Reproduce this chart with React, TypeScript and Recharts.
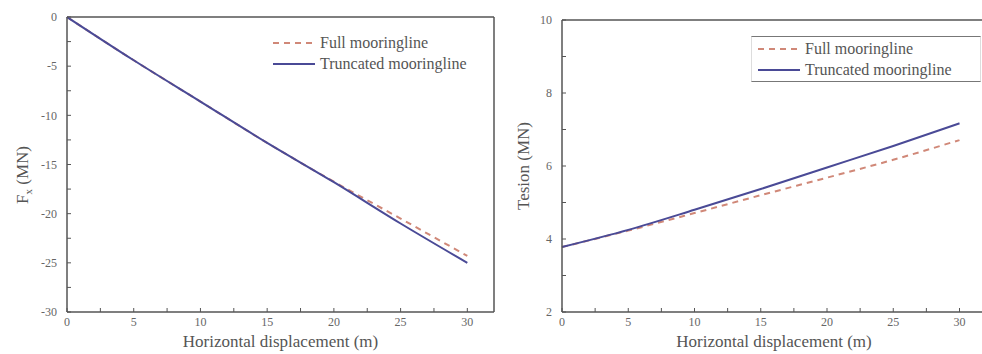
import { LineChart, Line, XAxis, YAxis, ReferenceLine, Label } from 'recharts';

// horizontal displacement (m)
const disp = [0, 5, 10, 15, 20, 25, 30];
// horizontal force Fx (MN)
const fxFull = [0, -4.4, -8.6, -12.8, -16.75, -20.5, -24.3];
const fxTrunc = [0, -4.4, -8.6, -12.8, -16.8, -21.0, -25.0];
// line tension (MN)
const tensionFull = [3.78, 4.23, 4.71, 5.2, 5.68, 6.17, 6.71];
const tensionTrunc = [3.78, 4.25, 4.8, 5.37, 5.96, 6.55, 7.17];

const xTicks = [0, 2.5, 5, 7.5, 10, 12.5, 15, 17.5, 20, 22.5, 25, 27.5, 30];
const fxTicks = [0, -2.5, -5, -7.5, -10, -12.5, -15, -17.5, -20, -22.5, -25, -27.5, -30];
const tensionTicks = [2, 3, 4, 5, 6, 7, 8, 9, 10];
const seriesNames = ['Full mooringline', 'Truncated mooringline'];

const fxData = disp.map((x, i) => ({ x, full: fxFull[i], trunc: fxTrunc[i] }));
const tensionData = disp.map((x, i) => ({ x, full: tensionFull[i], trunc: tensionTrunc[i] }));

const FONT = '"Liberation Serif", "DejaVu Serif", serif';
const AXIS = '#555';
const FULL_COLOR = '#d08878';
const TRUNC_COLOR = '#4a4a96';

const tickStyle = { fill: '#666', fontSize: 12, fontFamily: FONT };

// legend drawn as an overlay so it doesn't take space from the plot
function LegendBox({ boxed, width, left, top }: { boxed: boolean; width: number; left: number; top: number }) {
  return (
    <div
      style={{
        position: 'absolute',
        left,
        top,
        width,
        fontFamily: FONT,
        fontSize: 16,
        color: '#555',
        borderTop: boxed ? '1.5px solid #777' : 'none',
        borderBottom: boxed ? '1.5px solid #777' : 'none',
        borderLeft: boxed ? '1px solid #ddd' : 'none',
        borderRight: boxed ? '1px solid #ddd' : 'none',
        padding: boxed ? '1px 0 1px 6px' : 0,
        lineHeight: '21px',
      }}
    >
      {seriesNames.map((name, i) => (
        <div key={name} style={{ display: 'flex', alignItems: 'center', whiteSpace: 'nowrap' }}>
          <svg width={42} height={10} style={{ marginRight: 5 }}>
            <line
              x1={0}
              y1={5}
              x2={42}
              y2={5}
              stroke={i === 0 ? FULL_COLOR : TRUNC_COLOR}
              strokeWidth={2}
              strokeDasharray={i === 0 ? '6 5' : undefined}
            />
          </svg>
          <span>{name}</span>
        </div>
      ))}
    </div>
  );
}

function FxChart() {
  return (
    <LineChart width={500} height={354} data={fxData} margin={{ top: 17, right: 6, left: 0, bottom: 0 }}>
      <XAxis
        dataKey="x"
        type="number"
        domain={[0, 32]}
        ticks={xTicks}
        interval={0}
        tickFormatter={(v) => (v % 5 === 0 ? String(v) : '')}
        tick={tickStyle}
        tickSize={-4}
        tickMargin={9}
        tickLine={{ stroke: AXIS }}
        axisLine={{ stroke: AXIS, strokeWidth: 1.5 }}
        height={42}
      >
        <Label
          value="Horizontal displacement (m)"
          position="insideBottom"
          offset={7}
          style={{ fill: '#555', fontSize: 17, fontFamily: FONT }}
        />
      </XAxis>
      <YAxis
        type="number"
        domain={[-30, 0]}
        ticks={fxTicks}
        interval={0}
        tickFormatter={(v) => (v % 5 === 0 ? String(v) : '')}
        tick={tickStyle}
        tickSize={-4}
        tickMargin={14}
        tickLine={{ stroke: AXIS }}
        axisLine={{ stroke: AXIS, strokeWidth: 1.5 }}
        width={67}
      >
        <Label
          content={() => (
            <text
              x={28}
              y={175}
              transform="rotate(-90 28 175)"
              textAnchor="middle"
              fill="#555"
              fontSize={17}
              fontFamily={FONT}
            >
              F<tspan fontSize={11} dy={4}>x</tspan>
              <tspan dy={-4}> (MN)</tspan>
            </text>
          )}
        />
      </YAxis>
      <ReferenceLine y={0} stroke={AXIS} strokeWidth={1.5} />
      <ReferenceLine x={32} stroke={AXIS} strokeWidth={1.5} />
      <Line
        type="monotone"
        dataKey="full"
        stroke={FULL_COLOR}
        strokeWidth={2}
        strokeDasharray="6 5"
        dot={false}
        isAnimationActive={false}
      />
      <Line
        type="monotone"
        dataKey="trunc"
        stroke={TRUNC_COLOR}
        strokeWidth={2}
        dot={false}
        isAnimationActive={false}
      />
    </LineChart>
  );
}

function TensionChart() {
  return (
    <LineChart width={500} height={354} data={tensionData} margin={{ top: 20, right: 5, left: 0, bottom: 0 }}>
      <XAxis
        dataKey="x"
        type="number"
        domain={[0, 32]}
        ticks={xTicks}
        interval={0}
        tickFormatter={(v) => (v % 5 === 0 ? String(v) : '')}
        tick={tickStyle}
        tickSize={-4}
        tickMargin={9}
        tickLine={{ stroke: AXIS }}
        axisLine={{ stroke: AXIS, strokeWidth: 1.5 }}
        height={42}
      >
        <Label
          value="Horizontal displacement (m)"
          position="insideBottom"
          offset={7}
          style={{ fill: '#555', fontSize: 17, fontFamily: FONT }}
        />
      </XAxis>
      <YAxis
        type="number"
        domain={[2, 10]}
        ticks={tensionTicks}
        interval={0}
        tickFormatter={(v) => (v % 2 === 0 ? String(v) : '')}
        tick={tickStyle}
        tickSize={-4}
        tickMargin={14}
        tickLine={{ stroke: AXIS }}
        axisLine={{ stroke: AXIS, strokeWidth: 1.5 }}
        width={71}
      >
        <Label
          value="Tesion (MN)"
          angle={-90}
          position="insideLeft"
          offset={32}
          style={{ fill: '#555', fontSize: 17, fontFamily: FONT, textAnchor: 'middle' }}
        />
      </YAxis>
      <ReferenceLine y={10} stroke={AXIS} strokeWidth={1.5} />
      <Line
        type="monotone"
        dataKey="full"
        stroke={FULL_COLOR}
        strokeWidth={2}
        strokeDasharray="6 5"
        dot={false}
        isAnimationActive={false}
      />
      <Line
        type="monotone"
        dataKey="trunc"
        stroke={TRUNC_COLOR}
        strokeWidth={2}
        dot={false}
        isAnimationActive={false}
      />
    </LineChart>
  );
}

export default function App() {
  return (
    <div
      style={{
        position: 'fixed',
        left: 0,
        top: 0,
        width: 982,
        height: 354,
        overflow: 'hidden',
        background: '#fff',
      }}
    >
      <div style={{ position: 'absolute', left: 0, top: 0 }}>
        <FxChart />
      </div>
      <div style={{ position: 'absolute', left: 491, top: 0 }}>
        <TensionChart />
      </div>
      <LegendBox boxed={false} width={220} left={273} top={32} />
      <LegendBox boxed={true} width={222} left={751} top={36} />
    </div>
  );
}
